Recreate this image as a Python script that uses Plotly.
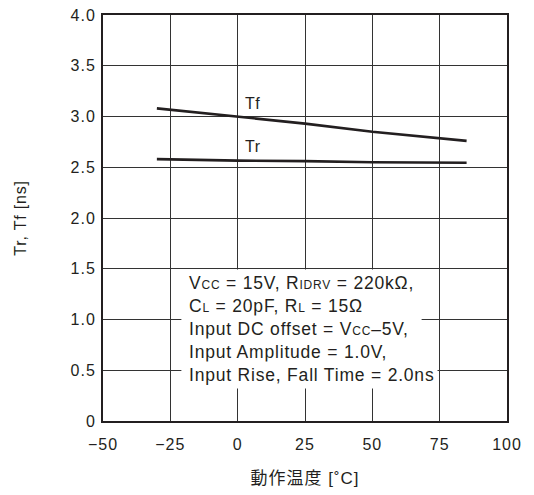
import re
import plotly.graph_objects as go

# temperature points (°C) and rise/fall times (ns)
temp = [-30, 0, 25, 50, 85]
tf_ns = [3.08, 3.00, 2.93, 2.85, 2.76]
tr_ns = [2.58, 2.565, 2.56, 2.55, 2.545]

x_ticks = [-50, -25, 0, 25, 50, 75, 100]
x_labels = ["\u221250", "\u221225", "0", "25", "50", "75", "100"]
y_ticks = [0, 0.5, 1.0, 1.5, 2.0, 2.5, 3.0, 3.5, 4.0]
y_labels = ["0", "0.5", "1.0", "1.5", "2.0", "2.5", "3.0", "3.5", "4.0"]

# test conditions, {..} marks the small subscript letters
cond_lines = [
    "V{CC} = 15V, R{IDRV} = 220k\u03a9,",
    "C{L} = 20pF, R{L} = 15\u03a9",
    "Input DC offset = V{CC}\u20135V,",
    "Input Amplitude = 1.0V,",
    "Input Rise, Fall Time = 2.0ns",
]

ink = "#231f20"
font = "Liberation Sans, Arial, Noto Sans CJK JP, sans-serif"


def track(txt, sp=0.8, small=None):
    # wrap text in a span with letter spacing; {..} parts get smaller type
    def seg(t, size=None):
        st = f"letter-spacing:{sp}px"
        if size:
            st += f";font-size:{size}px"
        return f"<span style='{st}'>{t}</span>"
    out = []
    for part in re.split(r"(\{[^}]*\})", txt):
        if not part:
            continue
        if part.startswith("{"):
            out.append(seg(part[1:-1], small))
        else:
            out.append(seg(part))
    return "".join(out)


fig = go.Figure()
fig.add_trace(go.Scatter(x=temp, y=tf_ns, mode="lines", name="Tf",
                         line=dict(color=ink, width=2.6)))
fig.add_trace(go.Scatter(x=temp, y=tr_ns, mode="lines", name="Tr",
                         line=dict(color=ink, width=2.6)))

fig.add_annotation(x=5.6, y=3.13, text=track("Tf", 0.5), showarrow=False,
                   font=dict(size=16, color=ink))
fig.add_annotation(x=5.6, y=2.70, text=track("Tr", 0.5), showarrow=False,
                   font=dict(size=16, color=ink))

# white patch behind the condition text (hides the grid)
fig.add_shape(type="rect", x0=-20.9, x1=68.3, y0=0.37, y1=1.42,
              fillcolor="white", line=dict(width=0), layer="above")

for i, line in enumerate(cond_lines):
    fig.add_annotation(x=-19.5, y=1.36 - 0.226 * i, xanchor="left", yanchor="middle",
                       align="left", text=track(line, 0.8, 12), showarrow=False,
                       bgcolor="white", borderpad=3,
                       font=dict(size=17.5, color=ink))

axis_common = dict(showgrid=True, gridcolor="#333333", gridwidth=1,
                   showline=True, linecolor=ink, linewidth=2, mirror=True,
                   ticks="", zeroline=False, automargin=False,
                   ticklabeloverflow="allow",
                   tickfont=dict(size=16, color=ink))
fig.update_xaxes(range=[-50, 100], tickvals=x_ticks,
                 ticktext=[track(t, 1) for t in x_labels], ticklabelstandoff=8,
                 title=dict(text=track("動作温度 [˚C]", 1), standoff=20,
                            font=dict(size=17, color=ink)),
                 **axis_common)
fig.update_yaxes(range=[0, 4.0], tickvals=y_ticks,
                 ticktext=[track(t, 1) for t in y_labels], ticklabelstandoff=2,
                 title=dict(text=track("Tr, Tf [ns]", 0.8), standoff=40,
                            font=dict(size=16, color=ink)),
                 **axis_common)

# page body keeps an 8px margin, so the figure is sized to sit inside the window
fig.update_layout(width=526, height=487, showlegend=False,
                  margin=dict(l=95, r=27, t=7, b=74),
                  plot_bgcolor="white", paper_bgcolor="white",
                  font=dict(family=font))
fig.write_html("out.html")
